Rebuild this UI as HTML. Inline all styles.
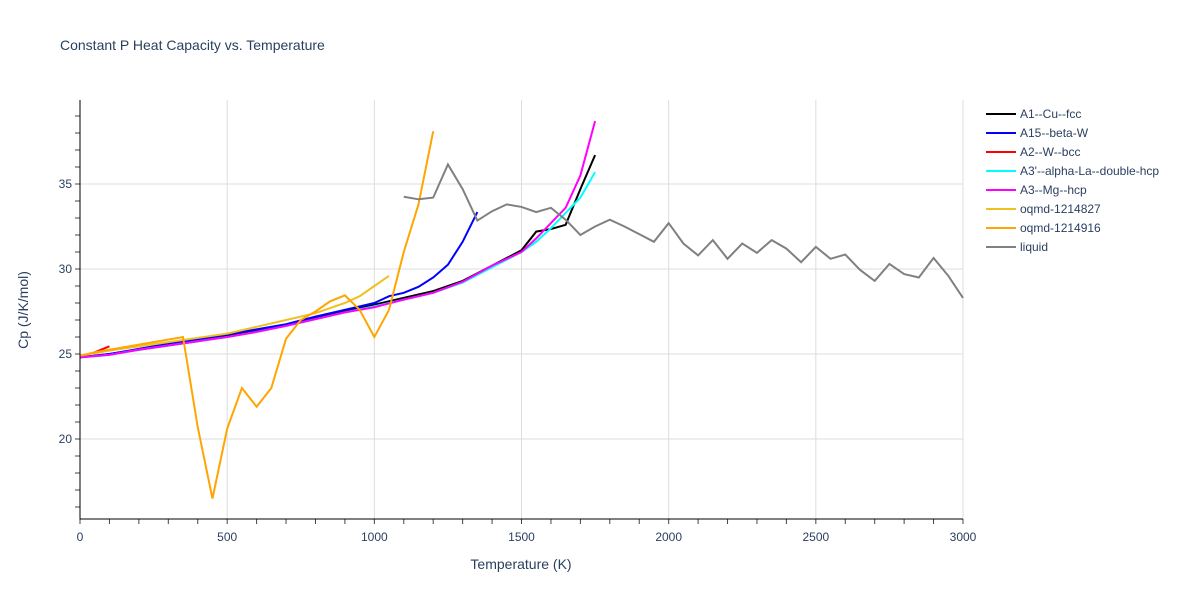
<!DOCTYPE html>
<html><head><meta charset="utf-8">
<style>
body{margin:0;background:#fff;font-family:"Liberation Sans",Arial,sans-serif;}
svg text{font-family:"Liberation Sans",Arial,sans-serif;fill:#2a3f5f;}
</style></head>
<body>
<svg id="chart" width="1200" height="600">
<rect width="1200" height="600" fill="#fff"/>
<text x="60" y="50" font-size="14">Constant P Heat Capacity vs. Temperature</text>
<g id="grid"></g><g id="series"></g><g id="axes"></g><g id="legend"></g>
<text x="521" y="569" font-size="14" text-anchor="middle">Temperature (K)</text>
<text x="28" y="310" font-size="14" text-anchor="middle" transform="rotate(-90 28 310)">Cp (J/K/mol)</text>
</svg>
<script>
const xTicks=[0,500,1000,1500,2000,2500,3000];
const yTicks=[20,25,30,35];
const a1T=[0,100,200,300,400,500,600,700,800,900,1000,1100,1200,1300,1400,1500,1550,1600,1650,1700,1750];
const a1V=[24.8,25.0,25.25,25.5,25.75,26.05,26.35,26.7,27.1,27.5,27.9,28.3,28.7,29.3,30.2,31.1,32.2,32.35,32.6,34.7,36.7];
const a15T=[0,100,200,300,400,500,600,700,800,900,1000,1050,1100,1150,1200,1250,1300,1350];
const a15V=[24.8,25.0,25.3,25.6,25.85,26.15,26.45,26.75,27.2,27.6,28.0,28.4,28.6,28.95,29.5,30.25,31.6,33.35];
const a2T=[0,50,100];
const a2V=[24.8,25.1,25.45];
const a3pT=[0,100,200,300,400,500,600,700,800,900,1000,1100,1200,1300,1400,1500,1550,1600,1650,1700,1750];
const a3pV=[24.8,24.95,25.25,25.5,25.75,26.0,26.3,26.65,27.05,27.45,27.8,28.2,28.6,29.2,30.1,31.0,31.6,32.4,33.3,34.2,35.7];
const a3T=[0,100,200,300,400,500,600,700,800,900,1000,1100,1200,1300,1400,1500,1550,1600,1650,1700,1750];
const a3V=[24.8,24.95,25.25,25.5,25.75,26.0,26.3,26.65,27.05,27.45,27.75,28.2,28.6,29.25,30.2,31.0,31.8,32.7,33.6,35.5,38.7];
const o27T=[0,100,200,300,400,500,600,700,800,900,950,1000,1050];
const o27V=[24.9,25.2,25.45,25.7,25.95,26.2,26.6,27.0,27.4,28.0,28.4,29.0,29.6];
const o16T=[0,50,100,150,200,250,300,350,400,450,500,550,600,650,700,750,800,850,900,950,1000,1050,1100,1150,1200];
const o16V=[24.9,25.1,25.25,25.4,25.55,25.7,25.85,26.0,20.7,16.5,20.6,23.0,21.9,23.0,25.9,27.0,27.5,28.1,28.45,27.6,26.0,27.6,31.0,33.8,38.1];
const liqT=[1100,1150,1200,1250,1300,1350,1400,1450,1500,1550,1600,1650,1700,1750,1800,1850,1900,1950,2000,2050,2100,2150,2200,2250,2300,2350,2400,2450,2500,2550,2600,2650,2700,2750,2800,2850,2900,2950,3000];
const liqV=[34.25,34.1,34.2,36.15,34.7,32.85,33.4,33.8,33.65,33.35,33.6,32.9,32.0,32.5,32.9,32.5,32.05,31.6,32.7,31.5,30.8,31.7,30.6,31.5,30.95,31.7,31.2,30.4,31.3,30.6,30.85,29.95,29.3,30.3,29.7,29.5,30.65,29.6,28.3];
const names=["A1--Cu--fcc","A15--beta-W","A2--W--bcc","A3'--alpha-La--double-hcp","A3--Mg--hcp","oqmd-1214827","oqmd-1214916","liquid"];
const colors=["#000000","#0000ff","#ff0000","#00ffff","#ff00ff","#f0c020","#ffa500","#808080"];
const xs=[a1T,a15T,a2T,a3pT,a3T,o27T,o16T,liqT];
const ys=[a1V,a15V,a2V,a3pV,a3V,o27V,o16V,liqV];

const L=80,R=963,T=100,B=519;
const X=v=>L+(v-0)/3000*(R-L);
const Y=v=>439-(v-20)*17;
const NS="http://www.w3.org/2000/svg";
function mk(tag,parent){const e=document.createElementNS(NS,tag);document.getElementById(parent).appendChild(e);return e;}
xTicks.forEach(t=>{
  if(t>0){const g=mk('line','grid');
  
  
  g.setAttribute('x1',X(t));g.setAttribute('x2',X(t));g.setAttribute('y1',T);g.setAttribute('y2',B);g.setAttribute('stroke','#ddd');}
  const tx=mk('text','axes');
  
  
  tx.setAttribute('x',X(t));tx.setAttribute('y',541);tx.setAttribute('font-size','12');tx.setAttribute('text-anchor','middle');tx.textContent=t;
});
for(let t=0;t<=3000;t+=100){
  const tk=mk('line','axes');
  
  
  tk.setAttribute('x1',X(t));tk.setAttribute('x2',X(t));tk.setAttribute('y1',B);tk.setAttribute('y2',B+5);tk.setAttribute('stroke','#444');
}
for(let t=16;t<=39;t++){
  const tk=mk('line','axes');
  
  
  tk.setAttribute('x1',L-5);tk.setAttribute('x2',L);tk.setAttribute('y1',Y(t));tk.setAttribute('y2',Y(t));tk.setAttribute('stroke','#444');
}
yTicks.forEach(t=>{
  const g=mk('line','grid');
  
  
  g.setAttribute('x1',L);g.setAttribute('x2',R);g.setAttribute('y1',Y(t));g.setAttribute('y2',Y(t));g.setAttribute('stroke','#ddd');
  const tx=mk('text','axes');
  
  
  tx.setAttribute('x',L-8);tx.setAttribute('y',Y(t)+4);tx.setAttribute('font-size','12');tx.setAttribute('text-anchor','end');tx.textContent=t;
});
const ax=mk('path','axes');


ax.setAttribute('d',`M${L},${T}V${B}H${R}`);ax.setAttribute('stroke','#000');ax.setAttribute('fill','none');
names.forEach((n,i)=>{
  const p=mk('polyline','series');
  
  
  p.setAttribute('points',xs[i].map((t,j)=>X(t)+','+Y(ys[i][j])).join(' '));
  p.setAttribute('fill','none');p.setAttribute('stroke',colors[i]);p.setAttribute('stroke-width','2');
  const ly=114+i*19;
  const ll=mk('line','legend');
  
  
  ll.setAttribute('x1',986);ll.setAttribute('x2',1016);ll.setAttribute('y1',ly);ll.setAttribute('y2',ly);ll.setAttribute('stroke',colors[i]);ll.setAttribute('stroke-width','2');
  const lt=mk('text','legend');
  
  
  lt.setAttribute('x',1020);lt.setAttribute('y',ly+4);lt.setAttribute('font-size','12');lt.textContent=n;
});
</script>
</body></html>
